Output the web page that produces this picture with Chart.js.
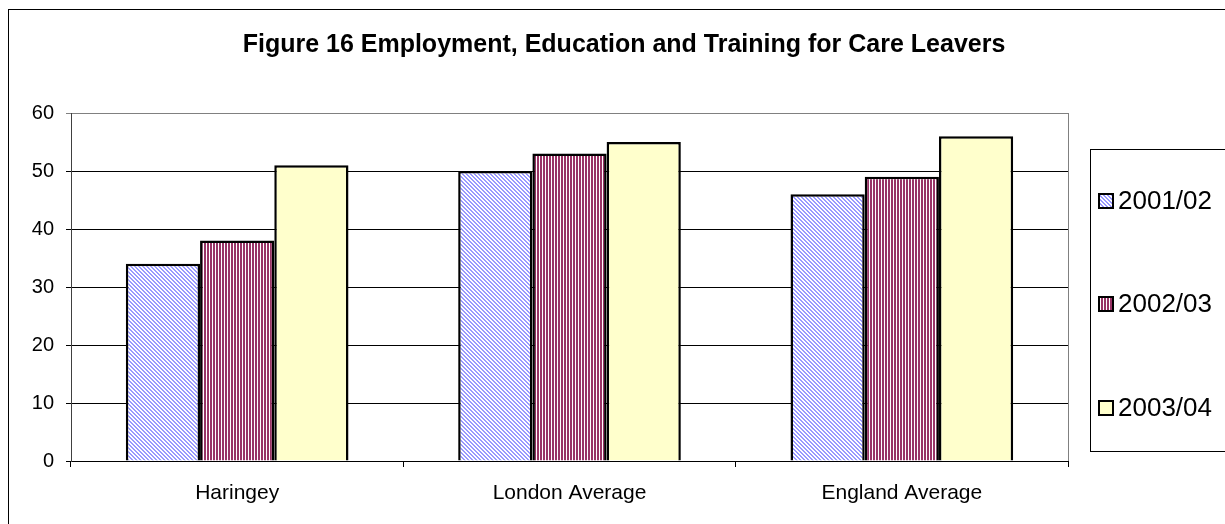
<!DOCTYPE html>
<html>
<head>
<meta charset="utf-8">
<script src="https://cdn.jsdelivr.net/npm/chart.js@4"></script>
<style>
    body { margin: 0; background: #fff; }
</style>
</head>
<body>
<canvas id="myChart" width="1225" height="524"></canvas>
<script>
const categories = ['Haringey', 'London Average', 'England Average'];
const seriesLabels = ['2001/02', '2002/03', '2003/04'];
const values2001 = [34, 50, 46];
const values2002 = [38, 53, 49];
const values2003 = [51, 55, 56];
const yTicks = [0, 10, 20, 30, 40, 50, 60];
const chartTitle = 'Figure 16 Employment, Education and Training for Care Leavers';

// little hatch tiles like the old excel fills
function makePattern(kind) {
    const c = document.createElement('canvas');
    const g = c.getContext('2d');
    if (kind === 'diag') {
        c.width = 4; c.height = 4;
        g.fillStyle = '#ffffff';
        g.fillRect(0, 0, 4, 4);
        g.fillStyle = '#9999ff';
        for (let i = 0; i < 4; i++) {
            g.fillRect(i, i, 1, 1);
            g.fillRect((i + 1) % 4, i, 1, 1);
        }
    } else if (kind === 'vert') {
        c.width = 3; c.height = 1;
        g.fillStyle = '#ffffff';
        g.fillRect(0, 0, 3, 1);
        g.fillStyle = '#993366';
        g.fillRect(0, 0, 2, 1);
    }
    return document.getElementById('myChart').getContext('2d').createPattern(c, 'repeat');
}

const fills = [makePattern('diag'), makePattern('vert'), '#ffffcc'];

const frame = {
    id: 'frame',
    beforeDatasetsDraw(chart) {
        const ctx = chart.ctx;
        const a = chart.chartArea;
        ctx.save();
        ctx.strokeStyle = '#808080';
        ctx.lineWidth = 1;
        ctx.beginPath();
        ctx.moveTo(a.right + 0.5, a.top);
        ctx.lineTo(a.right + 0.5, a.bottom);
        ctx.stroke();
        ctx.restore();
    },
    afterDraw(chart) {
        const ctx = chart.ctx;
        ctx.save();
        // outer border
        ctx.strokeStyle = '#000';
        ctx.lineWidth = 1;
        ctx.strokeRect(8.5, 9.5, 1300, 600);

        // title
        ctx.fillStyle = '#000';
        ctx.font = 'bold 25px "Liberation Sans", Arial, sans-serif';
        ctx.textAlign = 'center';
        ctx.textBaseline = 'middle';
        ctx.fillText(chartTitle, 624, 45);

        // legend box
        ctx.strokeStyle = '#000';
        ctx.strokeRect(1090.5, 149.5, 200, 302);
        const ys = [201, 304, 408];
        ctx.font = '26px "Liberation Sans", Arial, sans-serif';
        ctx.textAlign = 'left';
        chart.data.datasets.forEach(function (ds, i) {
            ctx.fillStyle = ds.backgroundColor;
            ctx.fillRect(1099, ys[i] - 7, 14, 14);
            ctx.lineWidth = 2;
            ctx.strokeStyle = '#000';
            ctx.strokeRect(1099, ys[i] - 7, 14, 14);
            ctx.fillStyle = '#000';
            ctx.fillText(ds.label, 1118, ys[i] + 1);
        });
        ctx.restore();
    }
};

const ctx = document.getElementById('myChart').getContext('2d');

const myChart = new Chart(ctx, {
    type: 'bar',
    data: {
        labels: categories,
        datasets: [
            { label: seriesLabels[0], data: values2001, backgroundColor: fills[0] },
            { label: seriesLabels[1], data: values2002, backgroundColor: fills[1] },
            { label: seriesLabels[2], data: values2003, backgroundColor: fills[2] }
        ].map(function (d) {
            d.borderColor = '#000';
            d.borderWidth = 2.5;
            d.barPercentage = 1;
            d.categoryPercentage = 0.67;
            return d;
        })
    },
    options: {
        responsive: false,
        animation: false,
        layout: { padding: { left: 0, right: 157, top: 113, bottom: 0 } },
        plugins: {
            legend: { display: false },
            title: { display: false },
            tooltip: { enabled: false }
        },
        scales: {
            x: {
                afterFit: function (s) { s.height = 63; },
                grid: {
                    offset: true,
                    drawOnChartArea: false,
                    drawTicks: true,
                    tickLength: 6,
                    color: '#000'
                },
                border: { color: '#000', width: 1 },
                ticks: {
                    color: '#000',
                    padding: 14,
                    font: { family: '"Liberation Sans", Arial, sans-serif', size: 21 }
                }
            },
            y: {
                min: 0,
                max: 60,
                afterFit: function (s) { s.width = 71; },
                afterBuildTicks: function (s) {
                    s.ticks = yTicks.map(function (v) { return { value: v }; });
                },
                grid: {
                    color: function (c) { return c.tick && c.tick.value === 60 ? '#808080' : '#000'; },
                    tickLength: 5
                },
                border: { color: '#404040', width: 1 },
                ticks: {
                    color: '#000',
                    padding: 12,
                    font: { family: '"Liberation Sans", Arial, sans-serif', size: 20 }
                }
            }
        }
    },
    plugins: [frame]
});
</script>
</body>
</html>
